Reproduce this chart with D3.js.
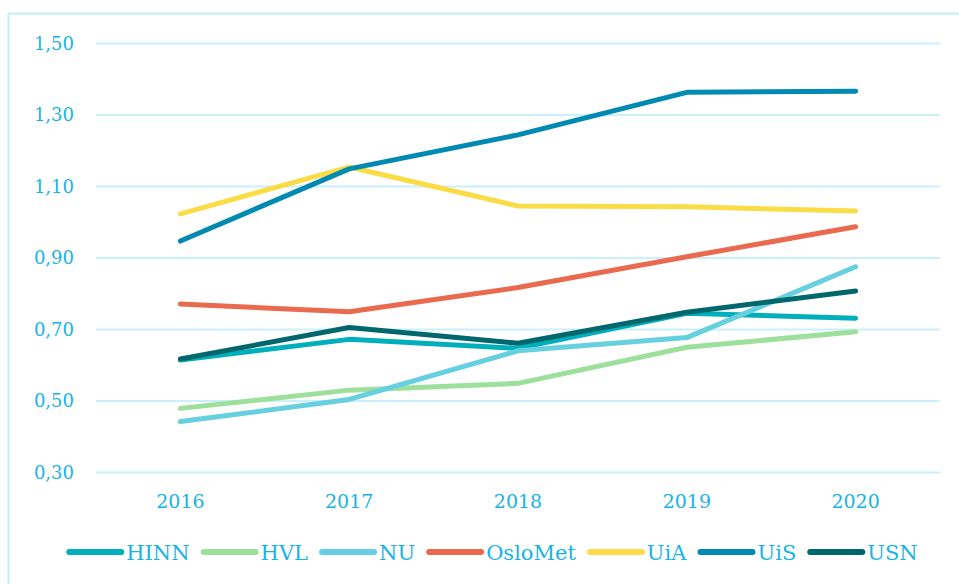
<!DOCTYPE html>
<html>
<head>
<meta charset="utf-8">
<script src="https://cdn.jsdelivr.net/npm/d3@7/dist/d3.min.js"></script>
<style>
  html, body { margin: 0; padding: 0; background: #fff; }
  svg { display: block; }
  text { fill: #16b3e6; }
</style>
</head>
<body>
<svg id="chart" width="959" height="584"></svg>
<script>
const years = ["2016", "2017", "2018", "2019", "2020"];
const yTicks = [0.30, 0.50, 0.70, 0.90, 1.10, 1.30, 1.50];
const seriesNames = ["HINN", "HVL", "NU", "OsloMet", "UiA", "UiS", "USN"];
const seriesColors = ["#00afbc", "#9de09b", "#66d0e0", "#ea6a50", "#fadc46", "#0089b1", "#00676c"];
const HINN = [0.613, 0.671, 0.646, 0.744, 0.730];
const HVL = [0.478, 0.529, 0.548, 0.649, 0.692];
const NU = [0.441, 0.503, 0.639, 0.676, 0.874];
const OsloMet = [0.770, 0.748, 0.816, 0.902, 0.986];
const UiA = [1.022, 1.153, 1.044, 1.042, 1.030];
const UiS = [0.946, 1.148, 1.243, 1.362, 1.365];
const USN = [0.616, 0.704, 0.660, 0.747, 0.806];
const seriesValues = [HINN, HVL, NU, OsloMet, UiA, UiS, USN];

const FONT = "'DejaVu Serif', 'Liberation Serif', 'Times New Roman', serif";
const svg = d3.select("#chart");
const W = 959, H = 584;

// frame (top and left light border)
svg.append("line").attr("x1", 8.5).attr("x2", W).attr("y1", 13.5).attr("y2", 13.5)
  .attr("stroke", "#c2eefa").attr("stroke-width", 2);
svg.append("line").attr("x1", 8.5).attr("x2", 8.5).attr("y1", 13.5).attr("y2", H)
  .attr("stroke", "#c2eefa").attr("stroke-width", 2);

const x = d3.scaleBand().domain(years).range([96, 940]);
const y = d3.scaleLinear().domain([0.30, 1.50]).range([472, 43]);

// gridlines
const yAxis = d3.axisLeft(y).tickValues(yTicks).tickSize(-(940 - 96))
  .tickFormat(d => d3.format(".2f")(d).replace(".", ","));
const gy = svg.append("g").attr("transform", "translate(96,0)").call(yAxis);
gy.attr("font-family", FONT);
gy.select(".domain").remove();
gy.selectAll(".tick line").attr("stroke", "#c9f0fc").attr("stroke-width", 2);
gy.selectAll(".tick text").attr("x", -22).attr("dy", "0.36em")
  .attr("font-size", 18).attr("fill", "#16b3e6").style("font-family", FONT);

const xAxis = d3.axisBottom(x).tickSize(0);
const gx = svg.append("g").attr("transform", "translate(0,472)").call(xAxis);
gx.attr("font-family", FONT);
gx.select(".domain").remove();
gx.selectAll(".tick text").attr("y", 36).attr("dy", 0)
  .attr("font-size", 19).attr("fill", "#16b3e6").style("font-family", FONT);

// lines
const line = d3.line().x((d, i) => x(years[i]) + x.bandwidth() / 2).y(d => y(d));
seriesNames.forEach((name, k) => {
  svg.append("path").datum(seriesValues[k])
    .attr("d", line)
    .attr("fill", "none")
    .attr("stroke", seriesColors[k])
    .attr("stroke-width", 5)
    .attr("stroke-linecap", "round")
    .attr("stroke-linejoin", "round");
});

// legend
const leg = svg.append("g").style("font-family", FONT);
let cx = 0;
seriesNames.forEach((name, k) => {
  const g = leg.append("g").attr("transform", `translate(${cx},0)`);
  g.append("line").attr("x1", 3).attr("x2", 55).attr("y1", 0).attr("y2", 0)
    .attr("stroke", seriesColors[k]).attr("stroke-width", 6).attr("stroke-linecap", "round");
  const t = g.append("text").attr("x", 60).attr("y", 8).attr("font-size", 21)
    .style("font-family", FONT).text(name);
  const w = t.node().getComputedTextLength();
  cx += 60 + w + 11;
});
const totalW = cx - 11;
leg.attr("transform", `translate(${(68 + 916) / 2 - totalW / 2},552)`);
</script>
</body>
</html>
